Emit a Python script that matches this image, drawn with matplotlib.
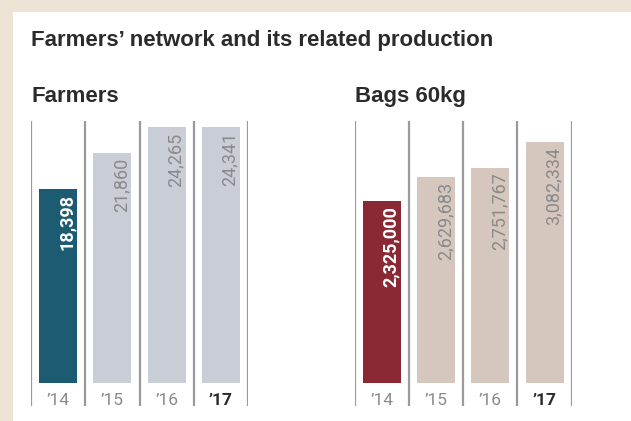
import matplotlib
matplotlib.use("Agg")
import matplotlib.pyplot as plt

# ── Data ─────────────────────────────────────────────────────────
years = ["\u201914", "\u201915", "\u201916", "\u201917"]
farmers = [18398, 21860, 24265, 24341]
bags = [2325000, 2629683, 2751767, 3082334]

title = "Farmers\u2019 network and its related production"

# ── Style ────────────────────────────────────────────────────────
BG = "#ede4d6"
LINE = "#9a9a9a"
TXT = "#8a8a8a"
DARK = "#2b2b2b"
BODY_FONT = ["Roboto", "DejaVu Sans"]
HEAD_FONT = ["Liberation Sans", "DejaVu Sans"]

W, H = 631, 421
fig = plt.figure(figsize=(W / 100, H / 100), dpi=100, facecolor=BG)

# white panel
fig.patches.append(plt.Rectangle((13 / W, 0), 1, 1 - 12 / H, transform=fig.transFigure,
                                 facecolor="white", edgecolor="none", zorder=-10))


def px(x, y):
    return x / W, 1 - y / H


fig.text(*px(31, 46), title, fontsize=16, fontweight="bold", color=DARK,
         family=HEAD_FONT, va="baseline")


def panel(x0, values, colors, ylim, label):
    top, bottom = 120.7, 406
    ax = fig.add_axes([x0 / W, 1 - bottom / H, 217 / W, (bottom - top) / H])
    ax.set_xlim(-0.5, 3.5)
    ax.set_ylim(*ylim)
    ax.axis("off")
    xs = range(len(values))
    ax.bar(xs, values, width=0.70, color=colors, zorder=2)
    for b in [-0.5, 0.5, 1.5, 2.5, 3.5]:
        ax.axvline(b, color=LINE, lw=1.6, zorder=1)
    for i, v in enumerate(values):
        first = i == 0
        last = i == len(values) - 1
        ax.annotate(f"{v:,}", (i, v), xytext=(6.5, -3.5), textcoords="offset points",
                    rotation=90, ha="center", va="top", fontsize=13,
                    color="white" if first else TXT,
                    fontweight="bold" if first else "normal", family=BODY_FONT)
        ax.text(i, ylim[0] * 0.74, years[i], ha="center", va="center",
                fontsize=12.5, color=DARK if last else TXT,
                fontweight="bold" if last else "normal", family=BODY_FONT)
    fig.text(*px(x0 + 0.5, 102), label, fontsize=16, fontweight="bold", color=DARK,
             family=HEAD_FONT, va="baseline")
    return ax


panel(31, farmers, ["#1d5b73", "#c9cdd6", "#c9cdd6", "#c9cdd6"], (-2153, 24910),
      "Farmers")
panel(354.7, bags, ["#8a2833", "#d5c6be", "#d5c6be", "#d5c6be"], (-289500, 3348900),
      "Bags 60kg")

fig.savefig("out.png", dpi=100, facecolor=BG)
